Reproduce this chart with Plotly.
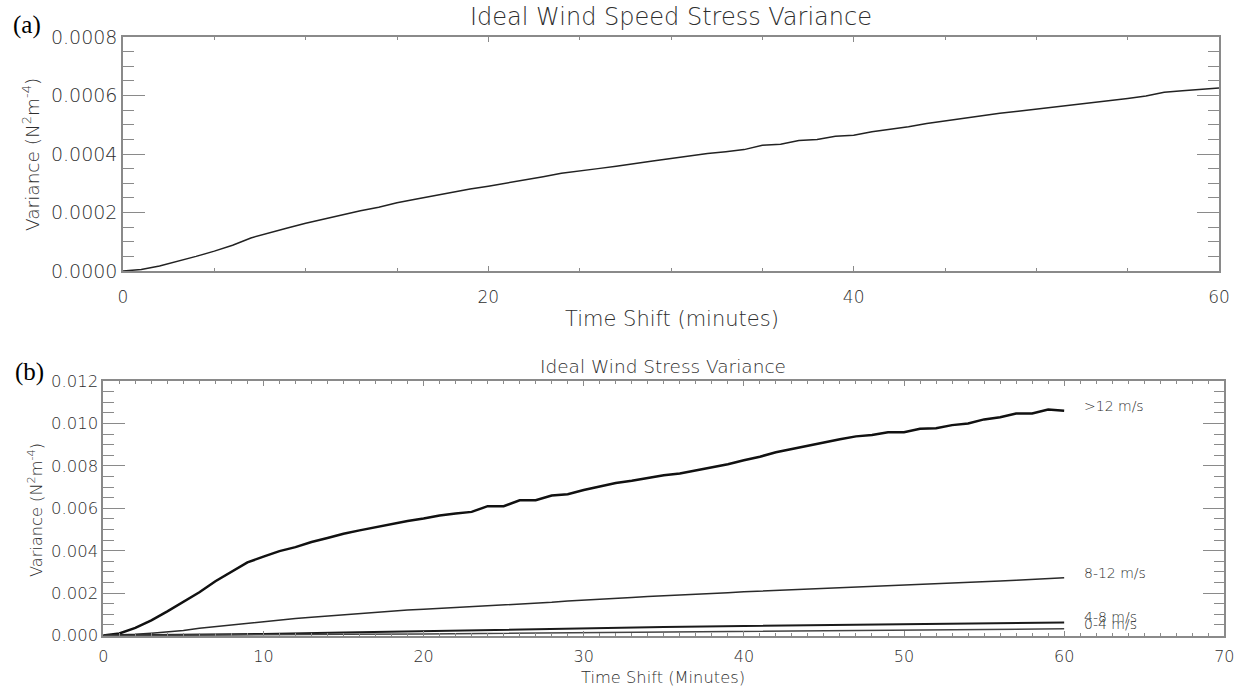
import plotly.graph_objects as go

# ---------------- data ----------------
minutes = list(range(0, 61))

speed_stress_var = [
    0.0, 0.000005, 0.000017, 0.000033, 0.000050, 0.000068, 0.000088, 0.000113, 0.000131, 0.000147,
    0.000163, 0.000178, 0.000192, 0.000206, 0.000218, 0.000233, 0.000245, 0.000257, 0.000268, 0.000280,
    0.000290, 0.000300, 0.000310, 0.000322, 0.000334, 0.000341, 0.000350, 0.000358, 0.000368, 0.000376,
    0.000385, 0.000394, 0.000402, 0.000408, 0.000415, 0.000430, 0.000433, 0.000446, 0.000450, 0.000461,
    0.000464, 0.000476, 0.000484, 0.000493, 0.000504, 0.000513, 0.000521, 0.000530, 0.000539, 0.000546,
    0.000553, 0.000560, 0.000567, 0.000575, 0.000582, 0.000590, 0.000598, 0.000611, 0.000616, 0.000622,
    0.000626,
]

var_gt12 = [
    0.0, 0.00010, 0.00036, 0.00072, 0.00114, 0.00158, 0.00204, 0.00256, 0.00302, 0.00345,
    0.00372, 0.00398, 0.00417, 0.00441, 0.00460, 0.00480, 0.00496, 0.00511, 0.00526, 0.00540,
    0.00552, 0.00566, 0.00575, 0.00583, 0.00610, 0.00610, 0.00638, 0.00638, 0.00660, 0.00666,
    0.00686, 0.00703, 0.00719, 0.00730, 0.00742, 0.00756, 0.00764, 0.00778, 0.00791, 0.00808,
    0.00826, 0.00843, 0.00864, 0.00880, 0.00897, 0.00910, 0.00925, 0.00939, 0.00945, 0.00958,
    0.00958, 0.00975, 0.00977, 0.00992, 0.01000, 0.01019, 0.01029, 0.01047, 0.01047, 0.01066,
    0.01060,
]

var_8_12 = [
    0.0, 0.00002, 0.00006, 0.00011, 0.00016, 0.00024, 0.00034, 0.00042, 0.00050, 0.00058,
    0.00066, 0.00073, 0.00080, 0.00086, 0.00092, 0.00097, 0.00103, 0.00108, 0.00114, 0.00120,
    0.00124, 0.00128, 0.00132, 0.00136, 0.00140, 0.00143, 0.00147, 0.00152, 0.00157, 0.00163,
    0.00168, 0.00172, 0.00176, 0.00180, 0.00184, 0.00187, 0.00191, 0.00195, 0.00199, 0.00202,
    0.00206, 0.00209, 0.00212, 0.00215, 0.00218, 0.00221, 0.00225, 0.00228, 0.00231, 0.00234,
    0.00238, 0.00241, 0.00244, 0.00247, 0.00250, 0.00254, 0.00257, 0.00261, 0.00265, 0.00269,
    0.00273,
]

minutes_5 = [0, 5, 10, 15, 20, 25, 30, 35, 40, 45, 50, 55, 60]
var_4_8 = [0.0, 0.00003, 0.00008, 0.00015, 0.00022, 0.00029, 0.00035, 0.00040, 0.00045, 0.00050, 0.00054, 0.00058, 0.00062]
var_0_4 = [0.0, 0.00001, 0.00003, 0.00006, 0.00008, 0.00011, 0.00014, 0.00018, 0.00021, 0.00024, 0.00026, 0.00029, 0.00032]

series_labels = [">12 m/s", "8-12 m/s", "4-8 m/s", "0-4 m/s"]

title_a = "Ideal Wind Speed Stress Variance"
title_b = "Ideal Wind Stress Variance"
xtitle_a = "Time Shift (minutes)"
xtitle_b = "Time Shift (Minutes)"
ytitle = "Variance (N<sup>2</sup>m<sup>-4</sup>)"

# ---------------- figure ----------------
W, H = 1243, 691
FONT = "DejaVu Sans"
TXT = "#2e2e2e"
AX = "#8a8a8a"
WT = 300


def px_x(p):
    return p / W


def px_y(p):
    return 1 - p / H


fig = go.Figure()

fig.add_trace(go.Scatter(x=minutes, y=speed_stress_var, mode="lines",
                         line=dict(color="#222222", width=1.5), xaxis="x", yaxis="y",
                         showlegend=False))

bottom_series = [
    (minutes, var_gt12, "#111111", 2.5),
    (minutes, var_8_12, "#2a2a2a", 1.5),
    (minutes_5, var_4_8, "#1a1a1a", 2.0),
    (minutes_5, var_0_4, "#444444", 1.5),
]
for xs, ys, col, w in bottom_series:
    fig.add_trace(go.Scatter(x=xs, y=ys, mode="lines", line=dict(color=col, width=w),
                             xaxis="x2", yaxis="y2", showlegend=False))

common_axis = dict(showline=True, linecolor=AX, linewidth=1.5, mirror="allticks",
                   ticks="inside", tickcolor=AX, tickwidth=1.2, showgrid=False,
                   zeroline=False, color=TXT, automargin=False)

fig.update_layout(
    template="none",
    width=W, height=H,
    margin=dict(l=0, r=0, t=0, b=0, autoexpand=False),
    paper_bgcolor="white", plot_bgcolor="white",
    font=dict(family=FONT, color=TXT, weight=WT),
    xaxis=dict(domain=[px_x(123), px_x(1219)], anchor="y", range=[0, 60],
               tick0=0, dtick=20, ticklen=5, ticklabelstandoff=10,
               tickfont=dict(size=17, family=FONT, color=TXT, weight=WT),
               minor=dict(dtick=5, ticklen=3, ticks="inside", tickcolor=AX),
               **common_axis),
    yaxis=dict(domain=[px_y(271), px_y(37)], anchor="x", range=[0, 0.0008],
               tick0=0, dtick=0.0002, tickformat=".4f", ticklen=22,
               tickfont=dict(size=19, family=FONT, color=TXT, weight=WT),
               minor=dict(dtick=0.00005, ticklen=11, ticks="inside", tickcolor=AX),
               **common_axis),
    xaxis2=dict(domain=[px_x(103.3), px_x(1224.3)], anchor="y2", range=[0, 70],
                tick0=0, dtick=10, ticklen=5, ticklabelstandoff=5,
                tickfont=dict(size=16, family=FONT, color=TXT, weight=WT),
                minor=dict(dtick=1, ticklen=3, ticks="inside", tickcolor=AX),
                **common_axis),
    yaxis2=dict(domain=[px_y(636), px_y(381)], anchor="x2", range=[-0.00002, 0.012],
                tick0=0, dtick=0.002, tickformat=".3f", ticklen=22,
                tickfont=dict(size=16.5, family=FONT, color=TXT, weight=WT),
                minor=dict(tick0=0, dtick=0.0005, ticklen=11, ticks="inside", tickcolor=AX),
                **common_axis),
)

annotations = [
    dict(text=title_a, x=px_x(671), y=px_y(17), size=24),
    dict(text=xtitle_a, x=px_x(672), y=px_y(319), size=21),
    dict(text=ytitle, x=px_x(31), y=px_y(155), size=18.5, angle=-90),
    dict(text=title_b, x=px_x(663), y=px_y(366), size=18.5),
    dict(text=xtitle_b, x=px_x(663), y=px_y(677), size=16.3),
    dict(text=ytitle, x=px_x(35), y=px_y(510), size=16.2, angle=-90),
]
for a in annotations:
    fig.add_annotation(text=a["text"], x=a["x"], y=a["y"], xref="paper", yref="paper",
                       showarrow=False, xanchor="center", yanchor="middle",
                       textangle=a.get("angle", 0),
                       font=dict(family=FONT, size=a["size"], color=TXT, weight=WT))

# panel letters
for letter, cx, cy in [("(a)", 27, 25), ("(b)", 29, 372)]:
    fig.add_annotation(text=letter, x=px_x(cx), y=px_y(cy), xref="paper", yref="paper",
                       showarrow=False, xanchor="center", yanchor="middle",
                       font=dict(family="Liberation Serif", size=25, color="black"))

# series labels at line ends
ends = [(minutes[-1], var_gt12[-1]), (minutes[-1], var_8_12[-1]),
        (minutes_5[-1], var_4_8[-1]), (minutes_5[-1], var_0_4[-1])]
for lab, (ex, ey) in zip(series_labels, ends):
    fig.add_annotation(text=lab, x=ex + 1.1, y=ey, xref="x2", yref="y2",
                       showarrow=False, xanchor="left", yanchor="middle", yshift=5,
                       font=dict(family=FONT, size=14, color=TXT, weight=WT))

fig.write_html("out.html",
               config={"displayModeBar": False},
               post_script="document.body.style.margin='0px';document.body.style.overflow='hidden';")
